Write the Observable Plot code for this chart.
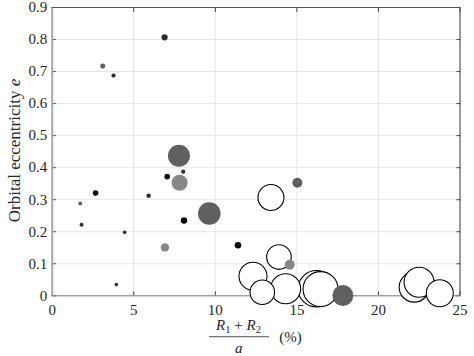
<!DOCTYPE html>
<html><head><meta charset="utf-8">
<script src="https://cdn.jsdelivr.net/npm/d3@7"></script>
<script src="https://cdn.jsdelivr.net/npm/@observablehq/plot@0.6"></script>
<style>
body{margin:0;background:#fff;}
svg{display:block}
svg text{font-family:'Liberation Serif','DejaVu Serif',serif !important;}
svg g[aria-label$="tick label"]{font-size:15px !important;}
svg g[aria-label$="tick label"] text{font-size:15px !important;}
</style>
</head><body><div id="chart"></div>
<script>
const xTicks = [0, 5, 10, 15, 20, 25];
const yTicks = [0, 0.1, 0.2, 0.3, 0.4, 0.5, 0.6, 0.7, 0.8, 0.9];
// (R1+R2)/a in %
const ratio = [6.89, 3.10, 3.76, 7.77, 7.05, 8.03, 7.81, 2.66, 5.91, 1.72, 9.63, 8.08, 1.80, 4.44, 6.91, 3.93,
  15.03, 13.41, 11.39, 13.90, 14.56, 12.31, 12.88, 14.31, 16.45, 16.20, 17.82, 22.19, 23.76, 22.49];
// orbital eccentricity e
const ecc = [0.807, 0.717, 0.6875, 0.4375, 0.372, 0.3875, 0.353, 0.3206, 0.3125, 0.288, 0.257, 0.235, 0.222, 0.198, 0.151, 0.035,
  0.353, 0.307, 0.158, 0.121, 0.097, 0.061, 0.011, 0.022, 0.021, 0.022, 0.001, 0.027, 0.008, 0.0425];
// bubble size (area units)
const sizes = [9.6, 6.3, 4.4, 121, 7.8, 4.4, 64, 7.8, 4.8, 4, 128, 10.2, 4, 3.2, 17.6, 3.2,
  25, 169, 10.9, 151, 25, 196, 151, 225, 306, 335, 110, 225, 182, 225];
// category (shade)
const groups = ["B","C","B","C","A","B","D","A","B","C","C","A","B","B","D","B",
  "C","E","A","E","D","E","E","E","E","E","C","E","E","E"];
const groupNames = ["A", "B", "C", "D", "E"];
const groupFill = ["#0a0a0a", "#2e2e2e", "#606060", "#878787", "#ffffff"];

const data = ratio.map((x, i) => ({x, e: ecc[i], s: sizes[i], g: groups[i]}));
const fmt = d => `${d}`;
const serif = "Liberation Serif";

const chart = Plot.plot({
  width: 474, height: 356,
  marginLeft: 51.7, marginRight: 14.5, marginTop: 7, marginBottom: 60.7,
  x: {domain: [0, 25]},
  y: {domain: [0, 0.9]},
  r: {type: "sqrt", domain: [0, 400], range: [0, 20]},
  color: {type: "ordinal", domain: groupNames, range: groupFill},
  style: {fontFamily: serif, fontSize: "15px", color: "#262626", background: "#fff"},
  marks: [
    Plot.gridX({ticks: xTicks, stroke: "#e6e6e6", strokeOpacity: 1}),
    Plot.gridY({ticks: yTicks, stroke: "#e6e6e6", strokeOpacity: 1}),
    Plot.axisX({ticks: xTicks, tickSize: 0, tickPadding: 9, tickFormat: fmt, label: null, fontSize: 15}),
    Plot.axisY({ticks: yTicks, tickSize: 0, tickPadding: 5, tickFormat: fmt, label: null, fontSize: 15}),
    Plot.axisX({ticks: xTicks, anchor: "bottom", tickSize: -4, tickFormat: () => "", label: null, stroke: "#444"}),
    Plot.axisX({ticks: xTicks, anchor: "top", tickSize: -4, tickFormat: () => "", label: null, stroke: "#444"}),
    Plot.axisY({ticks: yTicks, anchor: "left", tickSize: -4, tickFormat: () => "", label: null, stroke: "#444"}),
    Plot.axisY({ticks: yTicks, anchor: "right", tickSize: -4, tickFormat: () => "", label: null, stroke: "#444"}),
    Plot.ruleX([0], {stroke: "#aaa", strokeWidth: 2}),
    Plot.ruleY([0], {stroke: "#808080"}),
    Plot.ruleY([0.9], {stroke: "#555"}),
    Plot.ruleX([25], {stroke: "#444"}),
    Plot.dot(data, {x: "x", y: "e", r: "s", fill: "g",
      stroke: d => d.g === "E" ? "#000" : "none", strokeWidth: 1.1})
  ]
});
document.getElementById("chart").appendChild(chart);

const svg = d3.select(chart);
svg.selectAll('g[aria-label$="tick label"]').attr("font-size", 15).attr("font-family", serif);
const ink = "#262626";
// y label
const yl = svg.append("text")
  .attr("transform", "translate(20,150.5) rotate(-90)")
  .attr("text-anchor", "middle")
  .attr("font-size", 17).attr("fill", ink);
yl.append("tspan").text("Orbital eccentricity ");
yl.append("tspan").attr("font-style", "italic").text("e");
// x label: fraction
const num = svg.append("text").attr("x", 238.5).attr("y", 330)
  .attr("text-anchor", "middle").attr("font-size", 15).attr("fill", ink);
num.append("tspan").attr("font-style", "italic").text("R");
num.append("tspan").attr("font-size", 10.5).attr("dy", 3).text("1");
num.append("tspan").attr("dy", -3).text(" + ");
num.append("tspan").attr("font-style", "italic").text("R");
num.append("tspan").attr("font-size", 10.5).attr("dy", 3).text("2");
svg.append("line").attr("x1", 209).attr("x2", 269).attr("y1", 336.7).attr("y2", 336.7)
  .attr("stroke", ink).attr("stroke-width", 0.8);
svg.append("text").attr("x", 238.7).attr("y", 353).attr("text-anchor", "middle")
  .attr("font-size", 15).attr("font-style", "italic").attr("fill", ink).text("a");
svg.append("text").attr("x", 290.5).attr("y", 342).attr("text-anchor", "middle")
  .attr("font-size", 15).attr("fill", ink).text("(%)");
</script></body></html>
